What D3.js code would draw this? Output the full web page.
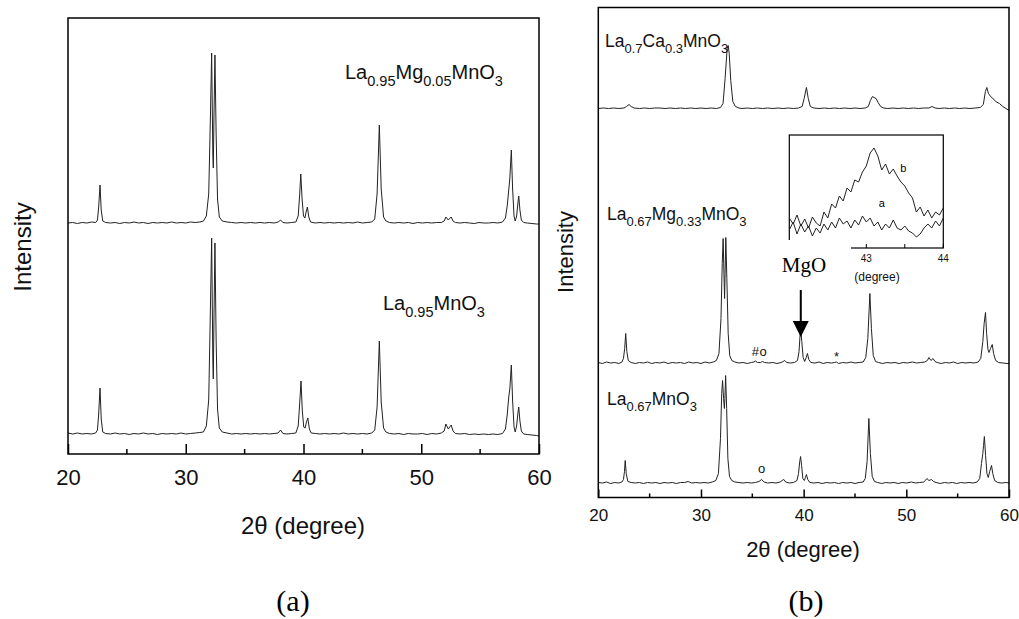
<!DOCTYPE html>
<html>
<head>
<meta charset="utf-8">
<script src="https://cdn.jsdelivr.net/npm/d3@7"></script>
<style>
body { margin: 0; background: #fff; }
svg { display: block; font-family: "Liberation Sans", Arial, sans-serif; }
</style>
</head>
<body>
<svg id="chart" width="1019" height="619"></svg>
<script>
'use strict';

// ---- data (2theta in degrees, intensity in arbitrary units) ----
var majorTicks = [20, 30, 40, 50, 60];
var minorTicks = [25, 35, 45, 55];
var insetTicks = [43, 44];
var insetMinor = [42.5, 43.5];

// panel (a)
var namesA = [["La", "0.95", "Mg", "0.05", "MnO", "3"], ["La", "0.95", "MnO", "3"]];
var offsetsA = [230, 19];
var laMg005 = [[20.0,1],[20.4,1.5],[20.8,0.5],[21.2,1.5],[21.6,1],[22.0,2],[22.35,1.5],[22.5,4],[22.6,16],[22.72,39],[22.82,14],[22.95,3],[23.2,1.5],[23.6,1],[24.0,1.5],[24.4,0.5],[24.8,1.5],[25.2,1],[25.6,2],[26.0,1],[26.4,1.5],[26.8,0.5],[27.2,1.5],[27.6,1],[28.0,1.5],[28.4,1],[28.8,2],[29.2,1],[29.6,1.5],[30.0,1],[30.4,2],[30.8,1.5],[31.2,2],[31.5,3],[31.75,8],[31.95,30],[32.1,110],[32.2,171],[32.3,70],[32.34,56],[32.4,110],[32.48,169],[32.58,90],[32.7,25],[32.85,7],[33.1,3],[33.5,2],[33.9,1.5],[34.3,1],[34.7,1.5],[35.1,1],[35.5,1.5],[35.9,1],[36.3,1.5],[36.7,1],[37.1,1.5],[37.5,1],[37.85,2],[38.05,4],[38.25,1.5],[38.6,1],[39.0,1.5],[39.35,2],[39.55,8],[39.68,30],[39.77,50],[39.88,25],[40.0,8],[40.12,6],[40.22,12],[40.33,17],[40.45,7],[40.6,2],[41.0,1],[41.4,1.5],[41.8,1],[42.2,1.5],[42.6,1],[43.0,1.5],[43.4,1],[43.8,1.5],[44.2,1],[44.6,2],[45.0,1],[45.4,1.5],[45.8,2],[46.05,5],[46.25,30],[46.44,99],[46.6,35],[46.8,7],[47.0,3],[47.3,1.5],[47.7,1],[48.1,1.5],[48.5,1],[48.9,1.5],[49.3,0.5],[49.7,1.5],[50.1,1],[50.5,1.5],[50.9,1],[51.3,1.5],[51.7,1.5],[51.95,3],[52.09,7],[52.3,4],[52.54,7],[52.7,3],[52.9,1.5],[53.3,1],[53.7,1.5],[54.1,1],[54.5,0.5],[54.9,1.5],[55.3,1],[55.7,1],[56.1,1.5],[56.5,1],[56.9,2],[57.15,6],[57.3,18],[57.43,34],[57.52,45],[57.65,74],[57.76,35],[57.88,8],[57.98,3],[58.1,8],[58.2,20],[58.28,28],[58.38,14],[58.5,4],[58.7,1.5],[59.0,1],[59.4,0.5],[59.8,0],[60.0,0]];
var la095 = [[20.0,2],[20.4,1],[20.8,2],[21.2,1],[21.6,1.5],[22.0,1],[22.35,2],[22.5,5],[22.6,20],[22.72,47],[22.82,16],[22.95,3],[23.2,1.5],[23.6,1],[24.0,2],[24.4,1],[24.8,1.5],[25.2,0.5],[25.6,1.5],[26.0,1],[26.4,2],[26.8,1],[27.2,1.5],[27.6,0.5],[28.0,1.5],[28.4,1],[28.8,1.5],[29.2,1],[29.6,2],[30.0,1],[30.4,1.5],[30.8,2],[31.2,2.5],[31.5,3],[31.75,9],[31.95,35],[32.1,130],[32.2,197],[32.3,75],[32.34,56],[32.4,120],[32.48,192],[32.58,95],[32.7,26],[32.85,7],[33.1,3],[33.5,2],[33.9,1],[34.3,1.5],[34.7,1],[35.1,1.5],[35.5,1],[35.9,1.5],[36.3,1],[36.7,1.5],[37.1,1],[37.5,1.5],[37.85,2],[38.05,5],[38.25,1.5],[38.6,1],[39.0,1.5],[39.35,2],[39.55,9],[39.68,32],[39.79,54],[39.9,24],[40.02,8],[40.14,7],[40.25,13],[40.37,17],[40.5,6],[40.65,2],[41.0,1.5],[41.4,1],[41.8,1.5],[42.2,1],[42.6,1.5],[43.0,1],[43.4,2],[43.8,1],[44.2,1.5],[44.6,1],[45.0,1.5],[45.4,1],[45.8,2],[46.05,5],[46.25,28],[46.44,94],[46.6,33],[46.8,7],[47.0,3],[47.3,1.5],[47.7,1],[48.1,1.5],[48.5,0.5],[48.9,1.5],[49.3,1],[49.7,1],[50.1,1.5],[50.5,0.5],[50.9,1.5],[51.3,1],[51.7,2],[51.95,4],[52.09,11],[52.3,6],[52.54,10],[52.7,4],[52.9,1.5],[53.3,1],[53.7,1.5],[54.1,0.5],[54.5,1],[54.9,0.5],[55.3,1],[55.7,0.5],[56.1,1],[56.5,0.5],[56.9,1.5],[57.15,6],[57.3,20],[57.43,38],[57.52,46],[57.65,70],[57.76,34],[57.88,8],[57.98,3],[58.1,9],[58.2,21],[58.28,28],[58.38,14],[58.5,4],[58.7,1],[59.0,0.5],[59.4,0],[59.8,-0.5],[60.0,-1]];

// panel (b)
var namesB = [["La", "0.7", "Ca", "0.3", "MnO", "3"], ["La", "0.67", "Mg", "0.33", "MnO", "3"], ["La", "0.67", "MnO", "3"]];
var offsetsB = [389, 134, 14];
var laCa03 = [[20.0,0],[20.5,0.5],[21.0,0],[21.5,0.5],[22.0,0],[22.5,0.5],[22.75,2],[22.99,4],[23.2,2],[23.5,0.5],[24.0,0],[24.5,0.5],[25.0,0],[25.5,0.5],[26.0,0.5],[26.5,0],[27.0,0.5],[27.5,0],[28.0,0.5],[28.5,0],[29.0,0.5],[29.5,0],[30.0,0.5],[30.5,0],[31.0,0.5],[31.5,0],[31.9,1],[32.15,5],[32.35,30],[32.55,60],[32.65,63],[32.75,55],[32.9,28],[33.1,7],[33.35,2],[33.7,0.5],[34.0,0],[34.5,0.5],[35.0,0],[35.5,0.5],[36.0,0],[36.5,0.5],[37.0,0],[37.5,0.5],[38.0,0],[38.5,0.5],[39.0,0],[39.5,0.5],[39.85,2],[40.05,10],[40.27,21],[40.45,10],[40.65,2],[41.0,0.5],[41.5,0],[42.0,0.5],[42.5,0],[43.0,0.5],[43.5,0],[44.0,0.5],[44.5,0],[45.0,0.5],[45.5,0],[46.0,0.5],[46.3,2],[46.5,8],[46.7,12],[46.85,11],[47.05,10],[47.25,6],[47.5,2],[47.8,0.5],[48.2,0],[48.7,0.5],[49.2,0],[49.7,0.5],[50.2,0],[50.7,0.5],[51.2,0],[51.7,0.5],[52.2,0.5],[52.5,2],[52.8,0.5],[53.2,0],[53.7,0.5],[54.2,0],[54.7,0.5],[55.2,0],[55.7,0.5],[56.2,0],[56.7,0.5],[57.2,1],[57.5,4],[57.7,17],[57.84,21],[58.0,15],[58.2,12],[58.4,10.5],[58.7,7],[59.07,5],[59.4,2],[59.7,0],[60.0,-2]];
var laMg033 = [[20.0,1],[20.4,0],[20.8,1.5],[21.2,0.5],[21.6,1],[22.0,0],[22.3,1.5],[22.45,5],[22.57,15],[22.67,30],[22.78,12],[22.92,3],[23.2,1],[23.6,0],[24.0,1],[24.4,0.5],[24.8,1.5],[25.2,0],[25.6,1],[26.0,0.5],[26.4,1.5],[26.8,0],[27.2,1],[27.6,0.5],[28.0,1],[28.4,0],[28.8,1.5],[29.2,0.5],[29.6,1],[30.0,0],[30.4,1.5],[30.8,0.5],[31.2,1.5],[31.5,3],[31.75,10],[31.95,45],[32.07,100],[32.16,125],[32.26,80],[32.3,65],[32.35,90],[32.42,126],[32.52,85],[32.65,30],[32.8,8],[33.0,3],[33.3,1.5],[33.7,0.5],[34.1,1],[34.5,0],[34.9,1],[35.15,1.5],[35.3,2.5],[35.5,1],[35.8,1],[36.0,2],[36.2,1],[36.6,0.5],[37.0,1],[37.4,0],[37.8,1],[38.0,2],[38.16,3],[38.35,1],[38.7,0.5],[39.1,1],[39.4,3],[39.55,12],[39.65,28],[39.72,33],[39.82,22],[39.95,6],[40.1,2],[40.25,6],[40.37,10],[40.5,4],[40.7,1],[41.1,0.5],[41.5,1.5],[41.9,0],[42.3,1],[42.7,0.5],[43.0,1],[43.2,1.5],[43.4,0],[43.8,1],[44.2,0.5],[44.6,1.5],[45.0,0.5],[45.4,1],[45.8,1.5],[46.05,6],[46.25,25],[46.45,70],[46.6,35],[46.78,8],[47.0,2],[47.3,1],[47.7,0],[48.1,1],[48.5,0.5],[48.9,1],[49.3,0],[49.7,1],[50.1,0.5],[50.6,1.5],[51.0,0.5],[51.4,1],[51.8,1.5],[52.05,3],[52.2,6],[52.4,3],[52.6,5],[52.8,2],[53.0,1],[53.4,0],[53.8,1],[54.2,0.5],[54.6,1.5],[55.0,0],[55.4,1],[55.8,0.5],[56.2,1],[56.6,0.5],[57.0,1.5],[57.25,5],[57.45,22],[57.58,40],[57.71,51],[57.82,30],[57.95,14],[58.05,11],[58.2,15],[58.37,19],[58.5,10],[58.7,3],[59.0,1],[59.4,0.5],[59.8,0],[60.0,0]];
var la067 = [[20.0,1],[20.4,0.5],[20.8,1.5],[21.2,0],[21.6,1],[22.0,0.5],[22.3,1.5],[22.45,4],[22.55,12],[22.62,23],[22.72,10],[22.88,2],[23.2,1],[23.6,0.5],[24.0,1],[24.4,0],[24.8,1],[25.2,0.5],[25.6,1],[26.0,0],[26.4,1],[26.8,0.5],[27.2,1],[27.6,0],[28.0,1],[28.4,1],[28.75,2],[29.1,0.5],[29.5,1],[29.9,0.5],[30.3,1],[30.7,0.5],[31.1,1.5],[31.45,3],[31.7,10],[31.9,45],[32.02,90],[32.1,103],[32.2,85],[32.28,75],[32.33,85],[32.4,108],[32.5,75],[32.62,25],[32.78,7],[33.0,3],[33.3,1.5],[33.7,1],[34.1,0.5],[34.5,1],[34.9,0.5],[35.3,1],[35.65,2],[35.9,4],[36.15,1.5],[36.5,0.5],[36.9,1],[37.3,0.5],[37.7,1.5],[37.9,3],[38.07,4],[38.25,1.5],[38.6,0.5],[39.0,1],[39.35,3],[39.5,10],[39.62,22],[39.7,27],[39.8,18],[39.92,5],[40.07,3],[40.17,6],[40.27,9],[40.4,4],[40.6,1],[41.0,0.5],[41.4,1],[41.8,0],[42.2,1],[42.6,0.5],[43.0,1],[43.4,0],[43.8,1],[44.2,0.5],[44.6,1],[45.0,0],[45.4,1],[45.8,1.5],[46.0,5],[46.18,22],[46.35,65],[46.5,30],[46.68,7],[46.9,2],[47.2,1],[47.6,0],[48.0,1],[48.4,0.5],[48.8,1],[49.2,0],[49.6,1],[50.0,0.5],[50.5,1.5],[50.9,0.5],[51.3,1],[51.7,1.5],[51.85,3],[52.0,5],[52.2,3],[52.45,4],[52.65,2],[52.9,1],[53.3,0],[53.7,1],[54.1,0.5],[54.5,1],[54.9,0],[55.3,1],[55.7,0.5],[56.1,1],[56.5,0.5],[56.9,1.5],[57.15,5],[57.32,20],[57.45,30],[57.52,38],[57.6,47],[57.72,28],[57.85,10],[57.98,6],[58.12,12],[58.3,18],[58.42,10],[58.6,3],[58.9,1],[59.3,0.5],[59.7,1],[60.0,0.5]];

// inset of panel (b): 42-44 degree region, curves a and b
var insetNames = ["a", "b"];
var insetA = [[42.00,18],[42.05,26],[42.10,14],[42.15,24],[42.20,16],[42.25,22],[42.30,12],[42.35,20],[42.40,15],[42.45,24],[42.50,18],[42.55,26],[42.60,20],[42.65,30],[42.70,24],[42.75,27],[42.80,20],[42.85,28],[42.90,23],[42.95,32],[43.00,26],[43.05,30],[43.10,22],[43.15,26],[43.20,18],[43.25,24],[43.30,20],[43.35,28],[43.40,20],[43.45,18],[43.50,22],[43.55,17],[43.60,15],[43.65,11],[43.70,14],[43.75,20],[43.80,24],[43.85,20],[43.90,27],[43.95,22],[44.00,30]];
var insetB = [[42.00,30],[42.05,24],[42.10,33],[42.15,22],[42.20,29],[42.25,20],[42.30,31],[42.35,25],[42.40,22],[42.45,36],[42.50,30],[42.55,44],[42.60,40],[42.65,52],[42.70,47],[42.75,60],[42.80,56],[42.85,68],[42.90,66],[42.95,76],[43.00,82],[43.05,95],[43.10,100],[43.15,92],[43.20,78],[43.25,84],[43.30,74],[43.35,79],[43.40,72],[43.45,66],[43.50,62],[43.55,55],[43.60,50],[43.65,36],[43.70,41],[43.75,32],[43.80,38],[43.85,30],[43.90,36],[43.95,33],[44.00,40]];

// ---- drawing ----
var svg = d3.select("#chart");

function addFormula(sel, parts, x, y, size, subSize) {
    var t = sel.append("text").attr("x", x).attr("y", y)
        .attr("font-size", size).attr("fill", "#111");
    parts.forEach(function(p, i) {
        var sub = i % 2 === 1;
        t.append("tspan")
            .attr("font-size", sub ? subSize : size)
            .attr("dy", i === 0 ? 0 : (sub ? size * 0.33 : -size * 0.33))
            .text(p);
    });
    return t;
}

function drawFrame(g, x, y, tickLen, minorLen, labelSize, pad) {
    var x0 = x.range()[0], x1 = x.range()[1];
    var y0 = y.range()[1], y1 = y.range()[0];

    g.append("rect")
        .attr("x", x0).attr("y", y0)
        .attr("width", x1 - x0).attr("height", y1 - y0)
        .attr("fill", "none").attr("stroke", "#000").attr("stroke-width", 1.5);

    var ax = g.append("g").attr("transform", "translate(0," + y1 + ")")
        .call(d3.axisBottom(x).tickValues(majorTicks).tickSize(-tickLen)
            .tickPadding(pad).tickFormat(d3.format("d")));
    ax.select(".domain").remove();
    ax.selectAll(".tick line").attr("stroke-width", 1.5);
    ax.selectAll("text").attr("font-size", labelSize).attr("font-family", null).attr("fill", "#111");

    g.append("g").attr("transform", "translate(0," + y1 + ")")
        .selectAll("line").data(minorTicks).enter().append("line")
        .attr("x1", function(d) { return x(d); })
        .attr("x2", function(d) { return x(d); })
        .attr("y1", 0).attr("y2", -minorLen)
        .attr("stroke", "#000").attr("stroke-width", 1.5);
}

function drawTraces(g, x, y, series, offsets) {
    series.forEach(function(s, i) {
        var line = d3.line()
            .x(function(d) { return x(d[0]); })
            .y(function(d) { return y(d[1] + offsets[i]); });
        g.append("path").datum(s)
            .attr("d", line)
            .attr("fill", "none")
            .attr("stroke", "#222")
            .attr("stroke-width", 1)
            .attr("stroke-linejoin", "round");
    });
}

// panel (a)
var xA = d3.scaleLinear().domain([20, 60]).range([68, 539]);
var yA = d3.scaleLinear().domain([0, 436]).range([454, 18]);
var gA = svg.append("g");
drawTraces(gA, xA, yA, [laMg005, la095], offsetsA);
drawFrame(gA, xA, yA, 10, 5, 22, 15);
addFormula(gA, namesA[0], 345, 79, 20, 14.5);
addFormula(gA, namesA[1], 383, 310, 20, 14.5);
gA.append("text").attr("x", 303).attr("y", 534)
    .attr("text-anchor", "middle").attr("font-size", 24).attr("fill", "#111")
    .text("2\u03b8 (degree)");
gA.append("text").attr("transform", "translate(31,247) rotate(-90)")
    .attr("text-anchor", "middle").attr("font-size", 24).attr("fill", "#111")
    .text("Intensity");
gA.append("text").attr("x", 293).attr("y", 611)
    .attr("text-anchor", "middle").attr("font-size", 30)
    .attr("font-family", "'Liberation Serif', 'Times New Roman', serif")
    .text("(a)");

// panel (b)
var xB = d3.scaleLinear().domain([20, 60]).range([598.3, 1009]);
var yB = d3.scaleLinear().domain([0, 490]).range([497.5, 7.5]);
var gB = svg.append("g");
drawTraces(gB, xB, yB, [laCa03, laMg033, la067], offsetsB);
drawFrame(gB, xB, yB, 8, 4, 17, 11);
addFormula(gB, namesB[0], 605, 47, 17.5, 13);
addFormula(gB, namesB[1], 607, 220, 17.5, 13);
addFormula(gB, namesB[2], 607, 405, 17.5, 13);
gB.append("text").attr("x", 803).attr("y", 557)
    .attr("text-anchor", "middle").attr("font-size", 22).attr("fill", "#111")
    .text("2\u03b8 (degree)");
gB.append("text").attr("transform", "translate(573,252) rotate(-90)")
    .attr("text-anchor", "middle").attr("font-size", 22).attr("fill", "#111")
    .text("Intensity");
gB.append("text").attr("x", 806).attr("y", 611)
    .attr("text-anchor", "middle").attr("font-size", 30)
    .attr("font-family", "'Liberation Serif', 'Times New Roman', serif")
    .text("(b)");

// phase markers
var marks = [["#", 35.3, offsetsB[1] + 8], ["o", 36.05, offsetsB[1] + 8], ["*", 43.2, offsetsB[1] + 3], ["o", 35.9, offsetsB[2] + 11]];
gB.selectAll("text.mark").data(marks).enter().append("text")
    .attr("class", "mark")
    .attr("x", function(d) { return xB(d[1]); })
    .attr("y", function(d) { return yB(d[2]); })
    .attr("text-anchor", "middle").attr("font-size", 13).attr("fill", "#111")
    .text(function(d) { return d[0]; });

// inset
var xI = d3.scaleLinear().domain([42, 44]).range([789.3, 943.3]);
var yI = d3.scaleLinear().domain([0, 113]).range([248, 135]);
var gI = svg.append("g");
gI.append("rect").attr("x", 789.3).attr("y", 135).attr("width", 154).attr("height", 113)
    .attr("fill", "#fff").attr("stroke", "#000").attr("stroke-width", 1.2);
[insetA, insetB].forEach(function(s) {
    gI.append("path").datum(s)
        .attr("d", d3.line().x(function(d) { return xI(d[0]); }).y(function(d) { return yI(d[1]); }))
        .attr("fill", "none").attr("stroke", "#222").attr("stroke-width", 1);
});
gI.selectAll("line.itick").data(insetTicks.concat(insetMinor)).enter().append("line")
    .attr("x1", function(d) { return xI(d); }).attr("x2", function(d) { return xI(d); })
    .attr("y1", 248).attr("y2", 244).attr("stroke", "#000");
gI.selectAll("text.itick").data(insetTicks).enter().append("text")
    .attr("x", function(d) { return xI(d); }).attr("y", 262)
    .attr("text-anchor", "middle").attr("font-size", 10).attr("fill", "#111")
    .text(function(d) { return d; });
gI.append("text").attr("x", 877).attr("y", 281).attr("text-anchor", "middle")
    .attr("font-size", 12).attr("fill", "#111").text("(degree)");
gI.append("text").attr("x", xI(43.2)).attr("y", yI(22 + 19))
    .attr("font-size", 11).attr("text-anchor", "middle").text(insetNames[0]);
gI.append("text").attr("x", xI(43.48)).attr("y", yI(76))
    .attr("font-size", 11).attr("text-anchor", "middle").text(insetNames[1]);

// MgO label box with arrow
gI.append("rect").attr("x", 757).attr("y", 240).attr("width", 94).attr("height", 52).attr("fill", "#fff");
gI.append("text").attr("x", 804).attr("y", 272).attr("text-anchor", "middle")
    .attr("font-size", 21).attr("font-family", "'Liberation Serif', 'Times New Roman', serif")
    .text("MgO");
var ax0 = xB(39.72);
gI.append("line").attr("x1", ax0).attr("x2", ax0).attr("y1", 290).attr("y2", 324)
    .attr("stroke", "#000").attr("stroke-width", 2);
gI.append("path")
    .attr("d", "M" + (ax0 - 8) + ",321L" + (ax0 + 8) + ",321L" + ax0 + ",337Z")
    .attr("fill", "#000");
</script>
</body>
</html>
